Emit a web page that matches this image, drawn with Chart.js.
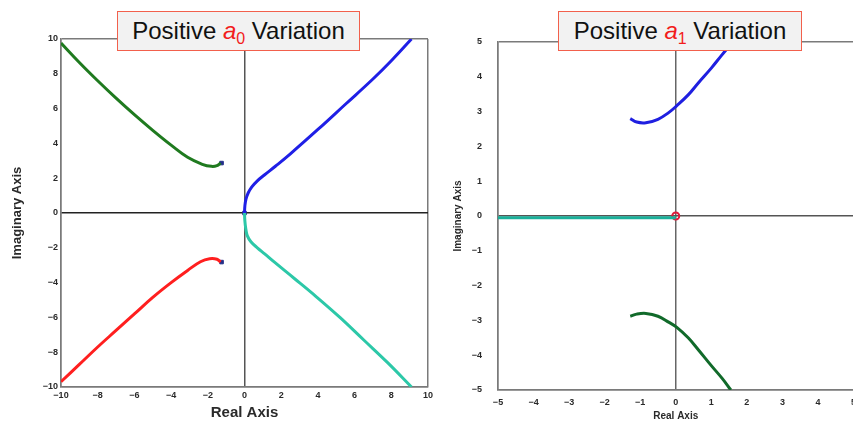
<!DOCTYPE html>
<html>
<head>
<meta charset="utf-8">
<script src="https://cdn.jsdelivr.net/npm/chart.js@4"></script>
<style>
  html, body { margin: 0; padding: 0; background: #fff; overflow: hidden; }
  body { width: 853px; height: 422px; position: relative; font-family: "Liberation Sans", Arial, sans-serif; }
  #leftWrap { position: absolute; left: 0; top: 0; width: 433px; height: 422px; overflow: hidden; }
  #leftChart { position: absolute; left: 0; top: 0; }
  #rightChart { position: absolute; left: 433px; top: 0; }
  .titleBox {
    position: absolute; top: 11px; height: 40px; box-sizing: border-box;
    border: 1.5px solid #f2604c; background: #f2f2f2;
    font-size: 24px; line-height: 37px; text-align: center; color: #111; z-index: 5;
  }
  .titleBox i { color: #f21c1c; }
  .titleBox sub { color: #f21c1c; font-size: 16px; vertical-align: -5px; line-height: 0; }
</style>
</head>
<body>
<div id="leftWrap"><canvas id="leftChart" width="445" height="422"></canvas></div>
<canvas id="rightChart" width="430" height="422"></canvas>
<div class="titleBox" style="left:117px;width:243px;">Positive <i>a</i><sub>0</sub> Variation</div>
<div class="titleBox" style="left:558px;width:244px;">Positive <i>a</i><sub>1</sub> Variation</div>
<script>
// ---- data: root-locus branches ([real, imag]) ----
const a0Ticks = [-10, -8, -6, -4, -2, 0, 2, 4, 6, 8, 10];
const a1Ticks = [-5, -4, -3, -2, -1, 0, 1, 2, 3, 4, 5];

const a0Green = [[-1.3,2.87],[-1.5,2.72],[-1.8,2.68],[-2.3,2.8],[-3.1,3.2],[-4,3.9],[-5,4.75],[-6,5.65],[-7,6.6],[-8,7.6],[-9,8.65],[-10,9.77]];
const a0Red = [[-1.3,-2.82],[-1.5,-2.66],[-1.9,-2.63],[-2.4,-2.8],[-3.1,-3.3],[-4,-4.0],[-5,-4.85],[-6,-5.8],[-7,-6.75],[-8,-7.7],[-9,-8.7],[-10,-9.7]];
const a0Blue = [[0,0],[0.02,0.4],[0.08,0.8],[0.2,1.15],[0.4,1.5],[0.7,1.85],[1.1,2.2],[1.7,2.7],[2.5,3.4],[4,4.8],[5.5,6.25],[7,7.7],[8,8.75],[9.1,10]];
const a0Cyan = [[0,0],[0.02,-0.45],[0.07,-0.9],[0.15,-1.3],[0.35,-1.65],[0.7,-2.0],[1.1,-2.35],[1.6,-2.8],[2.7,-3.75],[3.9,-4.8],[5.2,-6.0],[6.5,-7.3],[7.8,-8.6],[9.1,-10]];
const a0Poles = [[-1.25,2.87],[-1.25,-2.82],[0,0]];

const a1Blue = [[-1.28,2.8],[-1.1,2.7],[-0.84,2.68],[-0.5,2.78],[-0.2,2.97],[0.03,3.17],[0.35,3.48],[0.64,3.83],[1.0,4.25],[1.3,4.63],[1.6,5]];
const a1Green = [[-1.28,-2.88],[-1.1,-2.82],[-0.84,-2.8],[-0.5,-2.88],[-0.2,-3.05],[0.03,-3.2],[0.35,-3.5],[0.64,-3.85],[1.0,-4.3],[1.3,-4.66],[1.55,-5]];
const a1Teal = [[-5,-0.05],[0,-0.05]];
const a1Zero = [[0,0]];

const toXY = (arr) => arr.map(p => ({ x: p[0], y: p[1] }));
const fmt = (v) => (v < 0 ? "\u2212" + Math.abs(v) : String(v));

function branch(data, color, width) {
  return {
    data: toXY(data), showLine: true, borderColor: color, borderWidth: width,
    pointRadius: 0, tension: 0.4
  };
}

function gridColor(min, max, zeroColor) {
  return (ctx) => {
    const v = ctx.tick.value;
    if (v === 0) return zeroColor;
    if (v === min || v === max) return "#7a7a7a";
    return "rgba(0,0,0,0)";
  };
}

function makeAxis(opts) {
  const { min, max, ticks, axisSize, horizontal, tickFont, tickPad, titleText, titleFont, titlePad, zeroColor } = opts;
  return {
    type: "linear", min, max,
    afterBuildTicks: (s) => { s.ticks = ticks.map(v => ({ value: v })); },
    afterFit: (s) => { if (horizontal) s.height = axisSize; else s.width = axisSize; },
    ticks: { color: "#2a2a2a", font: tickFont, padding: tickPad, callback: (v) => fmt(v), maxRotation: 0, autoSkip: false },
    grid: { color: gridColor(min, max, zeroColor), lineWidth: 1.5, drawTicks: false },
    border: { display: true, color: "#7a7a7a", width: 1.5 },
    title: { display: true, text: titleText, color: "#2a2a2a", font: titleFont, padding: titlePad }
  };
}

new Chart(document.getElementById("leftChart"), {
  type: "scatter",
  data: {
    datasets: [
      branch(a0Green, "#1f7a1f", 3),
      branch(a0Red, "#ff1f1f", 3),
      branch(a0Blue, "#1f1fe6", 3),
      branch(a0Cyan, "#2cc8a8", 3),
      { data: toXY(a0Poles), pointRadius: 2.5, pointStyle: "rect", backgroundColor: "#23308a", borderColor: "#23308a" }
    ]
  },
  options: {
    responsive: false, animation: false,
    layout: { padding: { left: 0, top: 39, right: 17, bottom: 0 } },
    plugins: { legend: { display: false }, tooltip: { enabled: false } },
    scales: {
      x: makeAxis({ min: -10, max: 10, ticks: a0Ticks, axisSize: 35, horizontal: true,
        tickFont: { size: 9, weight: "bold", family: "Liberation Sans" }, tickPad: 3,
        titleText: "Real Axis", titleFont: { size: 15, weight: "bold", family: "Liberation Sans" }, titlePad: { top: 0, bottom: 0 },
        zeroColor: "#555" }),
      y: makeAxis({ min: -10, max: 10, ticks: a0Ticks, axisSize: 61, horizontal: false,
        tickFont: { size: 9, weight: "bold", family: "Liberation Sans" }, tickPad: 3,
        titleText: "Imaginary Axis", titleFont: { size: 13, weight: "bold", family: "Liberation Sans" }, titlePad: { top: 10, bottom: 0 },
        zeroColor: "#222" })
    }
  }
});

new Chart(document.getElementById("rightChart"), {
  type: "scatter",
  data: {
    datasets: [
      branch(a1Blue, "#1f1fe0", 3),
      branch(a1Green, "#116a2a", 3),
      { data: toXY(a1Teal), showLine: true, borderColor: "#1bb09a", borderWidth: 3, pointRadius: 0 },
      { data: toXY(a1Zero), pointRadius: 3.5, pointStyle: "circle", backgroundColor: "rgba(0,0,0,0)", borderColor: "#e01a3a", borderWidth: 2 }
    ]
  },
  options: {
    responsive: false, animation: false,
    layout: { padding: { left: 0, top: 42, right: 7, bottom: 0 } },
    plugins: { legend: { display: false }, tooltip: { enabled: false } },
    scales: {
      x: makeAxis({ min: -5, max: 5, ticks: a1Ticks, axisSize: 32, horizontal: true,
        tickFont: { size: 9, weight: "bold", family: "Liberation Sans" }, tickPad: 7,
        titleText: "Real Axis", titleFont: { size: 10, weight: "bold", family: "Liberation Sans" }, titlePad: { top: 0, bottom: 0 },
        zeroColor: "#666" }),
      y: makeAxis({ min: -5, max: 5, ticks: a1Ticks, axisSize: 65, horizontal: false,
        tickFont: { size: 9, weight: "bold", family: "Liberation Sans" }, tickPad: 16,
        titleText: "Imaginary Axis", titleFont: { size: 10, weight: "bold", family: "Liberation Sans" }, titlePad: { top: 19, bottom: 0 },
        zeroColor: "#555" })
    }
  }
});
</script>
</body>
</html>
